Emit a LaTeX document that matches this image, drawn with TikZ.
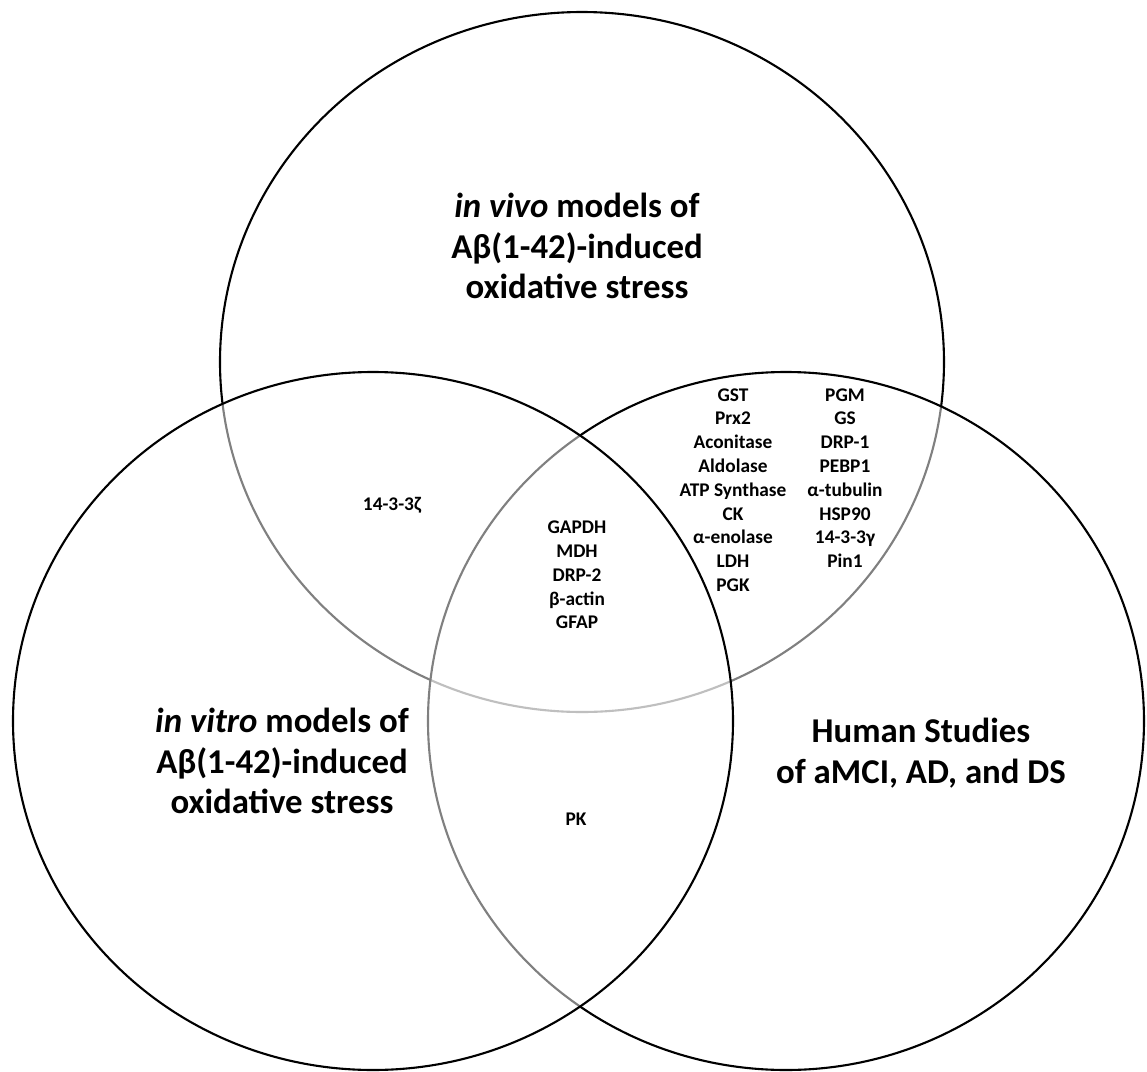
\documentclass[tikz,border=0pt]{standalone}
\usepackage{fontspec}
\setmainfont{Carlito}
\tikzset{
    venn/.style={draw=black, line width=0.6pt, fill=white, fill opacity=0.5},
    title/.style={align=center, font=\bfseries\fontsize{9.9}{11.6}\selectfont},
    entry/.style={align=center, font=\bfseries\fontsize{5.5}{6.77}\selectfont}
}

\begin{document}
\begin{tikzpicture}[x=0.01cm, y=-0.01cm]
    \useasboundingbox (0,0) rectangle (1147,1072);
    % the three sets
    \filldraw[venn] (582,362) ellipse [x radius=362, y radius=350];
    \filldraw[venn] (786,721) ellipse [x radius=358, y radius=349];
    \filldraw[venn] (373,721) ellipse [x radius=360, y radius=349];
    % set names
    \node[title] (vivo) at (577,246) {\textit{in vivo} models of\\Aβ(1-42)-induced\\oxidative stress};
    \node[title] (vitro) at (282,761) {\textit{in vitro} models of\\Aβ(1-42)-induced\\oxidative stress};
    \node[title] (human) at (921,753) {Human Studies\\of aMCI, AD, and DS};
    % overlaps
    \node[entry] (vivovitro) at (392,505) {14-3-3ζ};
    \node[entry] (all) at (577,575) {GAPDH\\MDH\\DRP-2\\β-actin\\GFAP};
    \node[entry] (vivohumanA) at (733,490) {GST\\Prx2\\Aconitase\\Aldolase\\ATP Synthase\\CK\\α-enolase\\LDH\\PGK};
    \node[entry] (vivohumanB) at (845,478) {PGM\\GS\\DRP-1\\PEBP1\\α-tubulin\\HSP90\\14-3-3γ\\Pin1};
    \node[entry] (vitrohuman) at (576,819) {PK};
\end{tikzpicture}
\end{document}
